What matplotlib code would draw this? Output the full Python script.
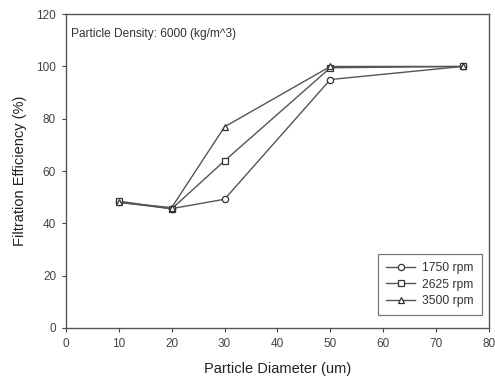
import matplotlib
matplotlib.use("Agg")
import matplotlib.pyplot as plt

plt.rcParams['font.family'] = ['Liberation Sans', 'DejaVu Sans']

diameter = [10, 20, 30, 50, 75]
eff_1750 = [48.0, 45.6, 49.2, 95.0, 100.0]
eff_2625 = [48.5, 45.5, 63.9, 99.5, 100.0]
eff_3500 = [48.0, 46.0, 76.9, 100.0, 100.0]
labels = ['1750 rpm', '2625 rpm', '3500 rpm']

fig = plt.figure(figsize=(4.95, 3.83), dpi=100)
ax = fig.add_axes([0.133, 0.144, 0.855, 0.819])

col = '#555555'
mk = dict(markersize=4.5, markerfacecolor='white', markeredgecolor='#333333',
          markeredgewidth=0.9, color=col, linewidth=1.0)
ax.plot(diameter, eff_1750, marker='o', label=labels[0], **mk)
ax.plot(diameter, eff_2625, marker='s', label=labels[1], **mk)
ax.plot(diameter, eff_3500, marker='^', label=labels[2], **mk)

ax.set_xlim(0, 80)
ax.set_ylim(0, 120)
ax.set_xticks(range(0, 81, 10))
ax.set_yticks(range(0, 121, 20))
ax.tick_params(direction='out', length=3, width=0.8, labelsize=8.5,
               colors='#444444', pad=4)
for s in ax.spines.values():
    s.set_color('#555555')
    s.set_linewidth(1.0)

ax.set_xlabel('Particle Diameter (um)', fontsize=10.5, color='#222222', labelpad=9)
ax.set_ylabel('Filtration Efficiency (%)', fontsize=10.5, color='#222222', labelpad=7)
ax.text(0.012, 0.955, 'Particle Density: 6000 (kg/m^3)', transform=ax.transAxes,
        fontsize=8.6, color='#333333', va='top', ha='left')

leg = ax.legend(loc='lower right', fontsize=8.7, frameon=True, fancybox=False,
                edgecolor='#555555', handlelength=2.4, handletextpad=0.6,
                bbox_to_anchor=(0.984, 0.04), borderaxespad=0,
                labelspacing=0.35, borderpad=0.7)
leg.get_frame().set_linewidth(0.9)
for t in leg.get_texts():
    t.set_color('#333333')

fig.savefig('out.png', dpi=100)
